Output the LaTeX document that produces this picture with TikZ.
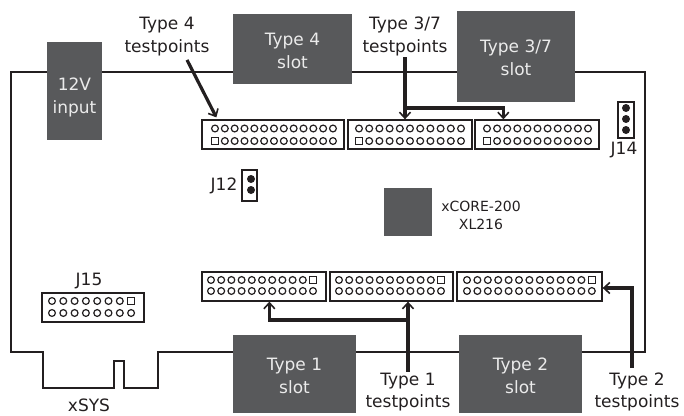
\documentclass[tikz,border=0pt]{standalone}
\usepackage{fontspec}
\setmainfont{DejaVu Sans}
\usetikzlibrary{
    arrows.meta,
    calc
}
\definecolor{slotgrey}{HTML}{58595B}
\definecolor{inkgrey}{HTML}{231F20}
\tikzset{
    board/.style={draw=inkgrey, line width=1.1pt},
    slot/.style={fill=slotgrey, draw=none, inner sep=0pt},
    slottext/.style={align=center, inner sep=0pt, text=white!92!black, font=\fontsize{17}{22.5}\selectfont},
    label/.style={align=center, inner sep=0pt, text=inkgrey, font=\fontsize{17}{22.5}\selectfont},
    smalllabel/.style={align=center, inner sep=0pt, text=inkgrey, font=\fontsize{14}{18}\selectfont},
    header/.style={draw=inkgrey, line width=1.3pt, fill=white, inner sep=0pt},
    pin/.style={draw=inkgrey, line width=1.2pt},
    probe/.style={draw=inkgrey, line width=3.2pt, -{Straight Barb[length=6pt,width=11pt,line width=1.6pt]}}
}
% header box: name, left, top, right, bottom
\newcommand{\headerbox}[5]{
    \node[header, minimum width=#4-#2, minimum height=#5-#3] (#1) at ({(#2+#4)/2},{(#3+#5)/2}) {};
}
% row of round pins: first x, step, last index, y
\newcommand{\pinrow}[4]{
    \foreach \i in {0,...,#3}
        \draw[pin] ({#1+\i*#2},#4) circle (3.4);
}
\newcommand{\pinsquare}[2]{
    \draw[pin] ({#1-3.2},{#2-3.2}) rectangle ({#1+3.2},{#2+3.2});
}

\begin{document}
\begin{tikzpicture}[x=1pt,y=-1pt]
\useasboundingbox (0,0) rectangle (684,415);

% Board outline
\draw[board] (11,352) -- (11,72) -- (645,72) -- (645,352) -- (158,352) -- (158,388)
    -- (124,388) -- (124,361) -- (114,361) -- (114,388) -- (43,388) -- (43,352) -- cycle;

% Slots
\node[slot, minimum width=55, minimum height=98] (inputslot) at (74.5,91) {};
\node[slottext, yshift=-6.5pt] (inputtext) at (inputslot) {12V\\input};
\node[slot, minimum width=119, minimum height=70] (slotfour) at (292.5,49) {};
\node[slottext, yshift=-2pt] (slotfourtext) at (slotfour) {Type 4\\slot};
\node[slot, minimum width=118, minimum height=91] (slotthree) at (516,56.5) {};
\node[slottext, yshift=-1.5pt] (slotthreetext) at (slotthree) {Type 3/7\\slot};
\node[slot, minimum width=123, minimum height=78] (slotone) at (294.5,374) {};
\node[slottext, yshift=-2pt] (slotonetext) at (slotone) {Type 1\\slot};
\node[slot, minimum width=123, minimum height=78] (slottwo) at (520.5,374) {};
\node[slottext, yshift=-2pt] (slottwotext) at (slottwo) {Type 2\\slot};

% xCORE device
\node[slot, minimum width=48, minimum height=48] (chip) at (408,212) {};
\node[smalllabel] (chiplabel) at (481,215) {xCORE-200\\XL216};

% Top headers
\headerbox{hdrfour}{202}{120}{344}{149}
\pinrow{215}{9.83}{12}{128.5}
\pinrow{224.83}{9.83}{11}{141}
\pinsquare{215}{141}
\headerbox{hdrthreea}{348}{120}{472}{149}
\pinrow{359}{10.2}{10}{128.5}
\pinrow{369.2}{10.2}{9}{141}
\pinsquare{359}{141}
\headerbox{hdrthreeb}{475}{120}{599}{149}
\pinrow{487}{10.1}{10}{128.5}
\pinrow{497.1}{10.1}{9}{141}
\pinsquare{487}{141}

% Bottom headers
\headerbox{hdronea}{202}{272}{326}{301}
\pinrow{211}{10.2}{9}{280}
\pinrow{211}{10.2}{10}{291}
\pinsquare{313}{280}
\headerbox{hdroneb}{330}{272}{453}{301}
\pinrow{339}{10.2}{9}{280}
\pinrow{339}{10.2}{10}{291}
\pinsquare{441}{280}
\headerbox{hdrtwo}{457}{272}{602}{301}
\pinrow{467}{10.4}{11}{280}
\pinrow{467}{10.4}{12}{291}
\pinsquare{592}{280}

% J15
\headerbox{hdrsys}{42}{293}{144}{322}
\pinrow{52}{11.3}{6}{301}
\pinrow{52}{11.3}{7}{313}
\pinsquare{131}{301}
\node[label] (jfifteen) at (89,281) {J15};

% J14, J12
\headerbox{hdrjfourteen}{618}{102}{634}{138}
\foreach \y in {108,119,130}
    \fill[inkgrey] (626,\y) circle (4);
\node[label] (jfourteen) at (624,150) {J14};
\headerbox{hdrjtwelve}{242}{170}{257}{201}
\foreach \y in {179,190}
    \fill[inkgrey] (251,\y) circle (4);
\node[label] (jtwelve) at (224,186) {J12};

% Labels
\node[label] (tpfour) at (167,36.5) {Type 4\\testpoints};
\node[label] (tpthree) at (405,36.5) {Type 3/7\\testpoints};
\node[label] (tpone) at (408,392) {Type 1\\testpoints};
\node[label] (tptwo) at (637,392) {Type 2\\testpoints};
\node[label] (xsys) at (89,405.5) {xSYS};

% Testpoint arrows
\coordinate (bendthree) at (405,108);
\coordinate (bendone) at (408,320);
\draw[probe] ($(tpfour.south)+(20,4)$) -- ($(hdrfour.north west)+(15,-2)$);
\draw[probe] ($(tpthree.south)+(0,1)$) -- (tpthree.south |- hdrthreea.north);
\draw[probe] (bendthree) -| ($(hdrthreeb.north west)+(29,0)$);
\draw[probe] ($(tpone.north)+(0,-1)$) -- (tpone.north |- hdroneb.south);
\draw[probe] (bendone) -| ($(hdronea.south west)+(68,0)$);
\draw[probe] (632,368) |- ($(hdrtwo.east)+(0,1.5)$);

\end{tikzpicture}
\end{document}
